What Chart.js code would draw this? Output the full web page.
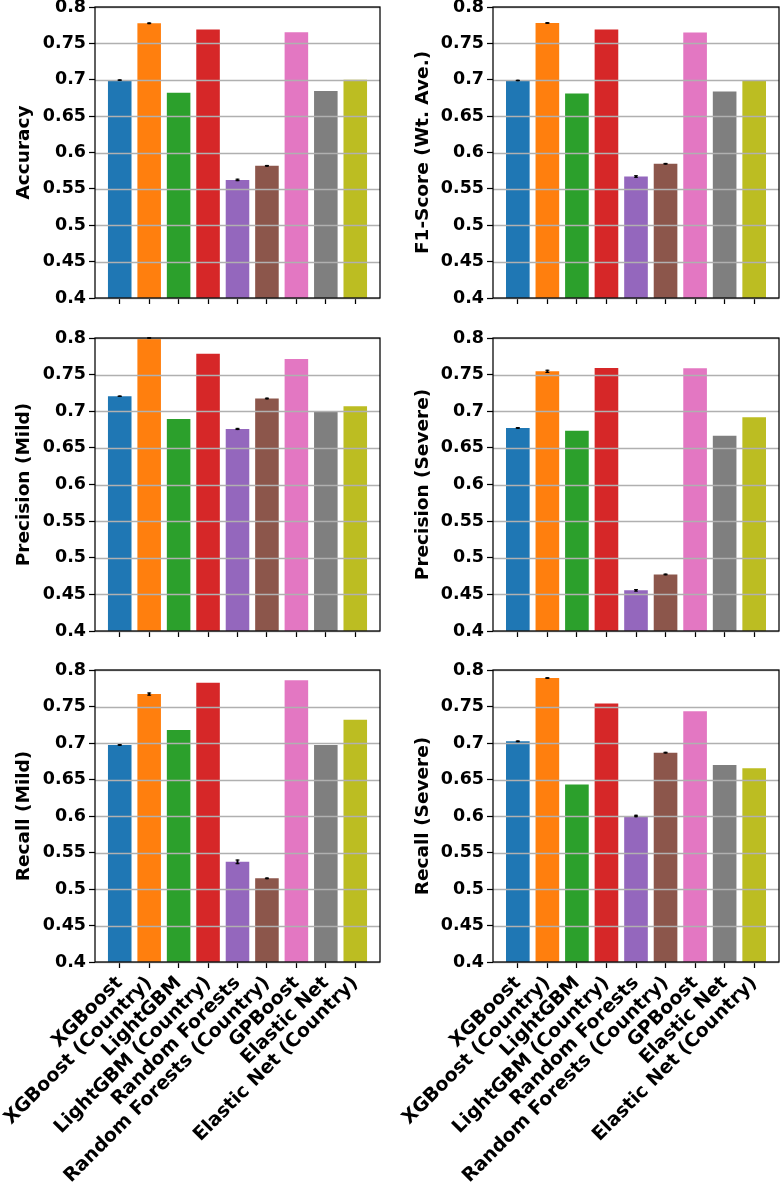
<!DOCTYPE html>
<html lang="en">
<head>
<meta charset="UTF-8">
<title>model metrics</title>
<style>
    body {
        margin: 0;
        background: #fff;
    }
    .panel {
        position: absolute;
    }
</style>
</head>
<body>
<div class="panel" style="left:0;top:0;width:390px;height:318px"><canvas id="c0"></canvas></div>
<div class="panel" style="left:390px;top:0;width:391px;height:318px"><canvas id="c1"></canvas></div>
<div class="panel" style="left:0;top:318px;width:390px;height:333px"><canvas id="c2"></canvas></div>
<div class="panel" style="left:390px;top:318px;width:391px;height:333px"><canvas id="c3"></canvas></div>
<div class="panel" style="left:0;top:651px;width:390px;height:533px"><canvas id="c4"></canvas></div>
<div class="panel" style="left:390px;top:651px;width:391px;height:533px"><canvas id="c5"></canvas></div>

<script src="https://cdn.jsdelivr.net/npm/chart.js"></script>
<script>
const models = ['XGBoost', 'XGBoost (Country)', 'LightGBM', 'LightGBM (Country)', 'Random Forests',
    'Random Forests (Country)', 'GPBoost', 'Elastic Net', 'Elastic Net (Country)'];
const colors = ['#1f77b4', '#ff7f0e', '#2ca02c', '#d62728', '#9467bd', '#8c564b', '#e377c2', '#7f7f7f', '#bcbd22'];
const yTicks = [0.4, 0.45, 0.5, 0.55, 0.6, 0.65, 0.7, 0.75, 0.8];

const accuracy = [0.6995, 0.7776, 0.682, 0.769, 0.5623, 0.5817, 0.7653, 0.6845, 0.700];
const accuracyErr = [0.0003, 0.0005, 0, 0, 0.001, 0.0005, 0, 0, 0];
const f1 = [0.699, 0.778, 0.681, 0.769, 0.567, 0.5845, 0.765, 0.684, 0.699];
const f1Err = [0.0003, 0.0005, 0, 0, 0.001, 0.0005, 0, 0, 0];
const precMild = [0.7205, 0.800, 0.6895, 0.7785, 0.6758, 0.7174, 0.7712, 0.6995, 0.7068];
const precMildErr = [0.0003, 0.0005, 0, 0, 0.0008, 0.0005, 0, 0, 0];
const precSevere = [0.6772, 0.7545, 0.6735, 0.759, 0.4555, 0.4772, 0.7586, 0.6667, 0.6918];
const precSevereErr = [0.0005, 0.0015, 0, 0, 0.001, 0.0005, 0, 0, 0];
const recMild = [0.6973, 0.767, 0.7178, 0.7826, 0.5372, 0.5146, 0.7858, 0.6973, 0.7317];
const recMildErr = [0.0005, 0.0015, 0, 0, 0.0025, 0.0005, 0, 0, 0];
const recSevere = [0.7023, 0.789, 0.6432, 0.7541, 0.600, 0.6868, 0.7436, 0.6699, 0.6653];
const recSevereErr = [0.0005, 0.0005, 0, 0, 0.001, 0.0005, 0, 0, 0];

Chart.defaults.font.family = "'DejaVu Sans', sans-serif";
Chart.defaults.font.weight = 'bold';
Chart.defaults.font.size = 17.5;
Chart.defaults.color = '#000';

// gridlines over the bars, error bars, and the box around the plot
const overlay = {
    id: 'overlay',
    afterDatasetsDraw(chart, args, opts) {
        const ctx = chart.ctx;
        const a = chart.chartArea;
        const ys = chart.scales.y;
        ctx.save();
        ctx.strokeStyle = '#b0b0b0';
        ctx.lineWidth = 1.5;
        yTicks.forEach(t => {
            const py = Math.round(ys.getPixelForValue(t)) + 0.5;
            ctx.beginPath();
            ctx.moveTo(a.left, py);
            ctx.lineTo(a.right, py);
            ctx.stroke();
        });
        const meta = chart.getDatasetMeta(0);
        const vals = chart.data.datasets[0].data;
        ctx.strokeStyle = '#000';
        opts.err.forEach((e, i) => {
            if (!e) return;
            const x = meta.data[i].x;
            const v = vals[i].y;
            const y1 = ys.getPixelForValue(v + e);
            const y2 = ys.getPixelForValue(v - e);
            ctx.lineWidth = 2;
            ctx.beginPath();
            ctx.moveTo(x, y1 - 0.5);
            ctx.lineTo(x, y2 + 0.5);
            ctx.stroke();
            ctx.lineWidth = 1;
            ctx.beginPath();
            ctx.moveTo(x - 2, y1);
            ctx.lineTo(x + 2, y1);
            ctx.moveTo(x - 2, y2);
            ctx.lineTo(x + 2, y2);
            ctx.stroke();
        });
        ctx.lineWidth = 1.25;
        ctx.strokeRect(a.left, a.top, a.right - a.left, a.bottom - a.top);
        ctx.restore();
    }
};

function makePanel(id, values, err, title, col, row) {
    const yWidth = col === 0 ? 95 : 103;
    const titlePad = col === 0 ? 13 : 22;
    const padTop = [7, 20, 19][row];
    const xHeight = [20, 20, 222][row];
    const bottom = row === 2;
    new Chart(document.getElementById(id), {
        type: 'bar',
        data: {
            datasets: [{
                data: values.map((v, i) => ({ x: i, y: v })),
                backgroundColor: colors,
                categoryPercentage: 0.8,
                barPercentage: 1.0
            }]
        },
        plugins: [overlay],
        options: {
            responsive: true,
            maintainAspectRatio: false,
            devicePixelRatio: 1,
            animation: false,
            layout: { padding: { top: padTop, right: col === 0 ? 10 : 2, left: 0, bottom: 0 } },
            plugins: {
                legend: { display: false },
                tooltip: { enabled: false },
                overlay: { err: err }
            },
            scales: {
                x: {
                    type: 'linear',
                    offset: false,
                    min: -0.84,
                    max: 8.84,
                    afterBuildTicks: axis => { axis.ticks = models.map((m, i) => ({ value: i })); },
                    afterFit: s => { s.height = xHeight; s.paddingLeft = 0; s.paddingRight = 0; },
                    grid: { offset: false, drawOnChartArea: false, drawTicks: true, tickLength: 6, tickColor: '#000', tickWidth: 1.25 },
                    border: { display: false },
                    ticks: {
                        display: bottom,
                        autoSkip: false,
                        minRotation: 45,
                        maxRotation: 45,
                        padding: 4,
                        font: { size: 19, weight: 'bold' },
                        callback: v => models[v]
                    }
                },
                y: {
                    min: 0.4,
                    max: 0.8,
                    afterBuildTicks: axis => { axis.ticks = yTicks.map(v => ({ value: v })); },
                    afterFit: s => { s.width = yWidth; s.paddingTop = 0; s.paddingBottom = 0; },
                    grid: { drawOnChartArea: false, drawTicks: true, tickLength: 6, tickColor: '#000', tickWidth: 1.25 },
                    border: { display: false },
                    ticks: {
                        padding: 3,
                        callback: v => String(parseFloat(v.toFixed(2)))
                    },
                    title: {
                        display: true,
                        text: title,
                        font: { size: 18.5, weight: 'bold' },
                        padding: { top: titlePad, bottom: 0 }
                    }
                }
            }
        }
    });
}

makePanel('c0', accuracy, accuracyErr, 'Accuracy', 0, 0);
makePanel('c1', f1, f1Err, 'F1-Score (Wt. Ave.)', 1, 0);
makePanel('c2', precMild, precMildErr, 'Precision (Mild)', 0, 1);
makePanel('c3', precSevere, precSevereErr, 'Precision (Severe)', 1, 1);
makePanel('c4', recMild, recMildErr, 'Recall (Mild)', 0, 2);
makePanel('c5', recSevere, recSevereErr, 'Recall (Severe)', 1, 2);
</script>
</body>
</html>
